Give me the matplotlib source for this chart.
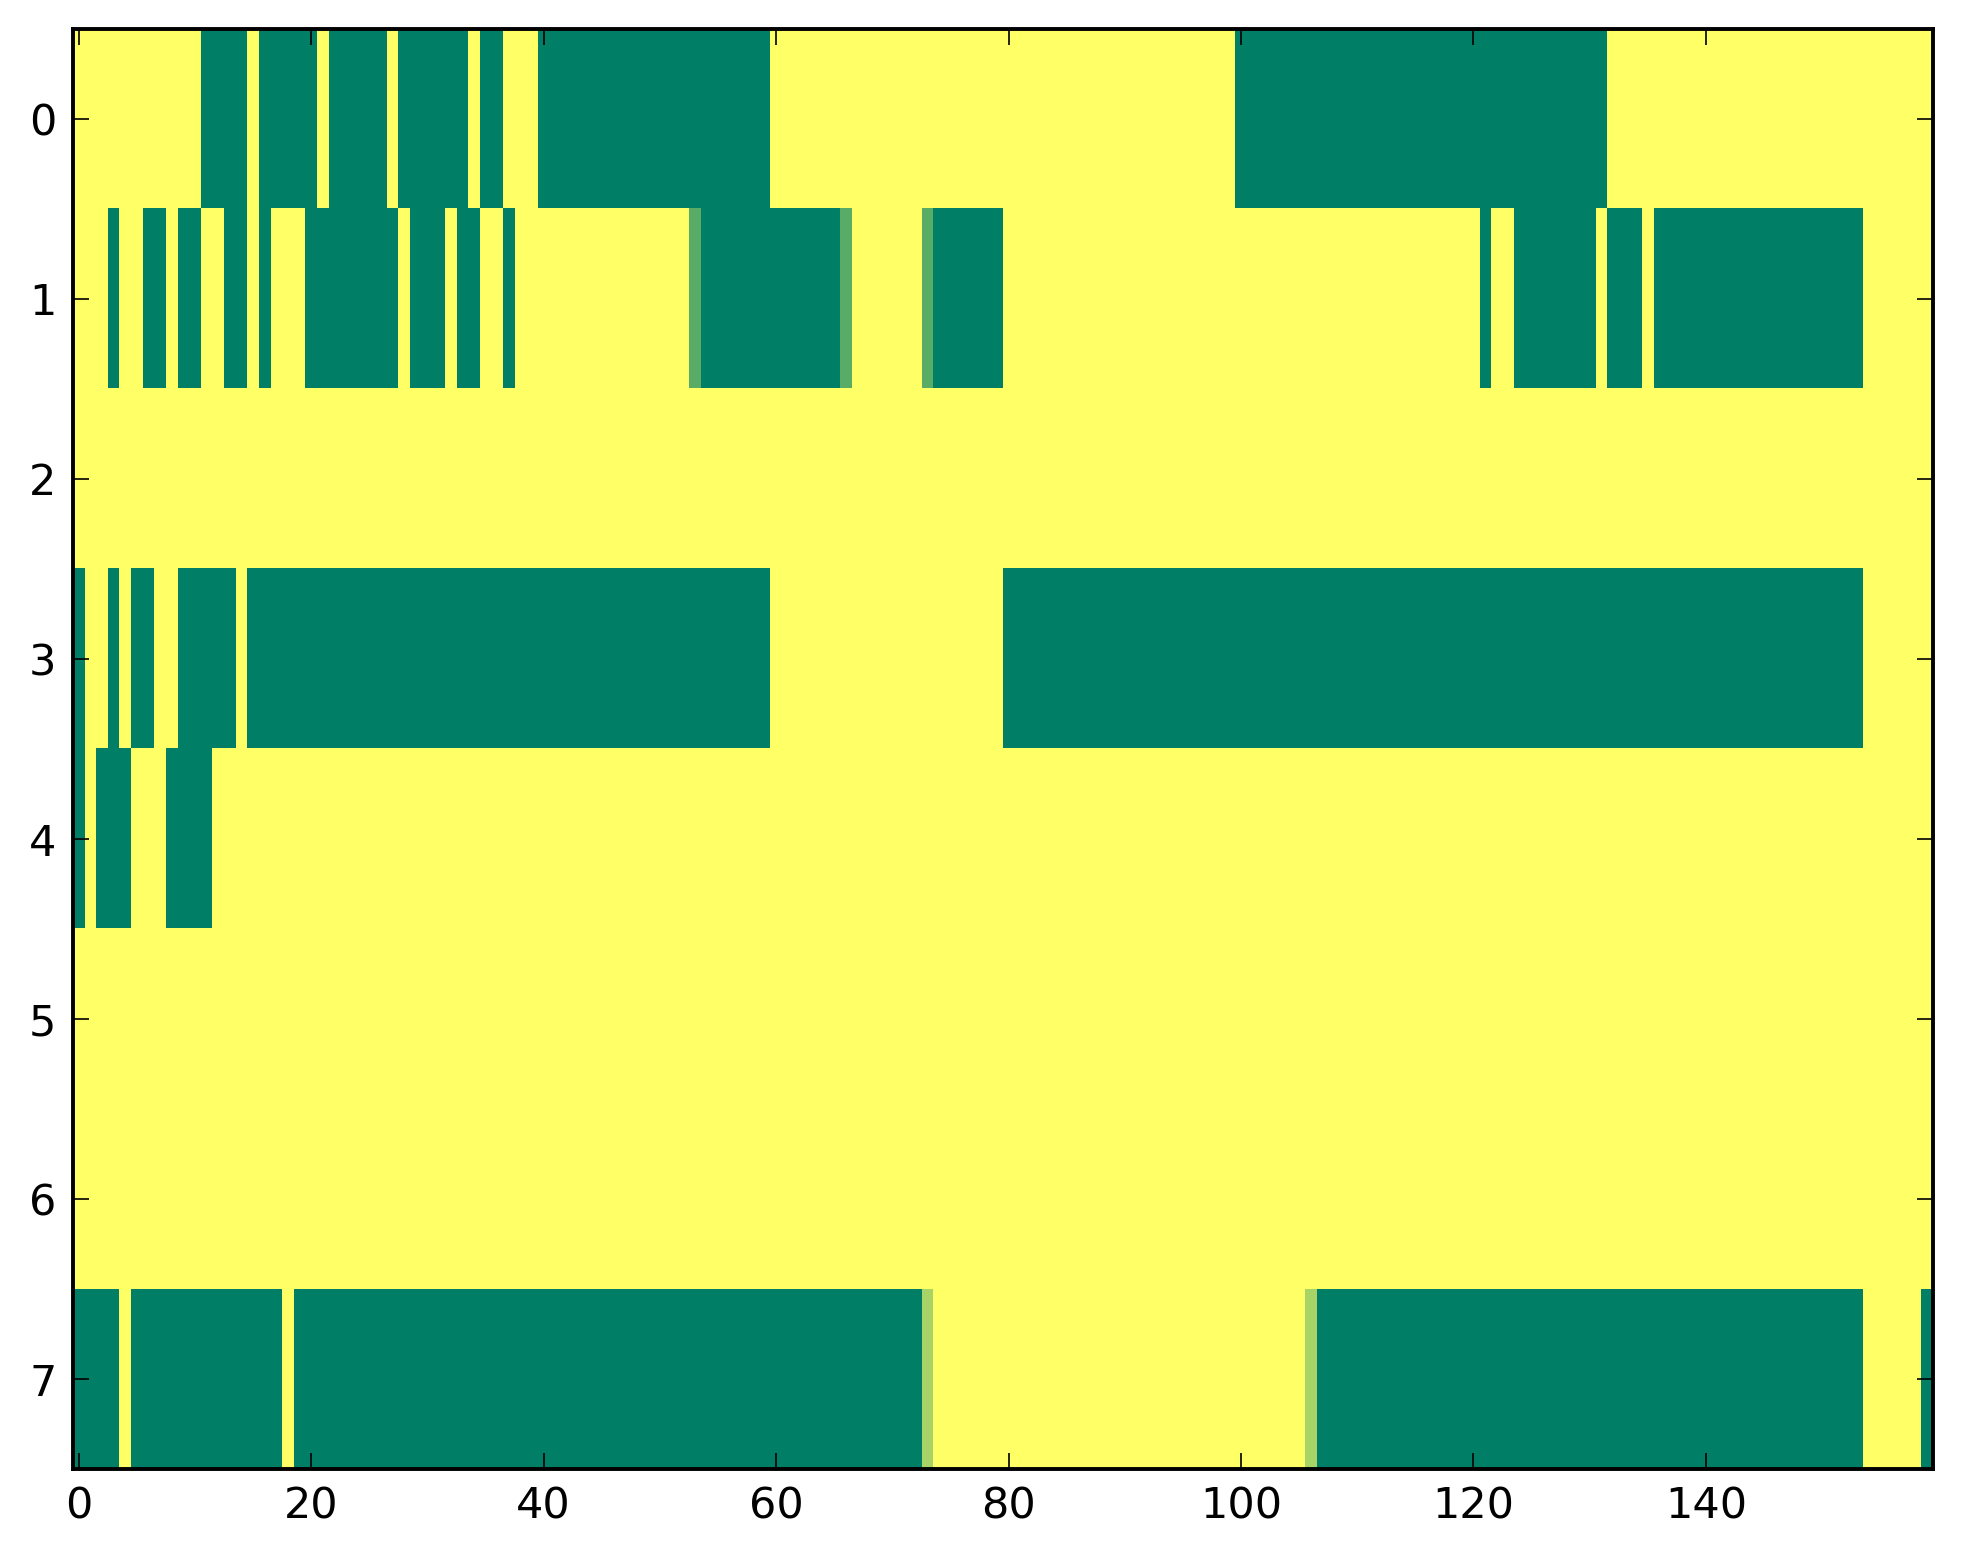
import matplotlib
matplotlib.use("Agg")
from matplotlib import pyplot as plt
import numpy as np

# Cell codes: G = 0 (green), Y = 1 (yellow), a / b = in-between values
codes = {"G": 0.0, "Y": 1.0, "a": 0.35, "b": 0.66}

row0 = ("Y" * 11 + "G" * 4 + "Y" + "G" * 5 + "Y" + "G" * 5 + "Y" + "G" * 6 + "Y"
        + "G" * 2 + "Y" * 3 + "G" * 20 + "Y" * 40 + "G" * 32 + "Y" * 28)
row1 = ("Y" * 3 + "G" + "Y" * 2 + "G" * 2 + "Y" + "G" * 2 + "Y" * 2 + "G" * 2 + "Y"
        + "G" + "Y" * 3 + "G" * 8 + "Y" + "G" * 3 + "Y" + "G" * 2 + "Y" * 2 + "G"
        + "Y" * 15 + "a" + "G" * 12 + "a" + "Y" * 6 + "a" + "G" * 6 + "Y" * 41
        + "G" + "Y" * 2 + "G" * 7 + "Y" + "G" * 3 + "Y" + "G" * 18 + "Y" * 6)
row2 = "Y" * 160
row3 = ("G" + "Y" * 2 + "G" + "Y" + "G" * 2 + "Y" * 2 + "G" * 5 + "Y" + "G" * 45
        + "Y" * 20 + "G" * 74 + "Y" * 6)
row4 = "G" + "Y" + "G" * 3 + "Y" * 3 + "G" * 4 + "Y" * 148
row5 = "Y" * 160
row6 = "Y" * 160
row7 = ("G" * 4 + "Y" + "G" * 13 + "Y" + "G" * 54 + "b" + "Y" * 32 + "b"
        + "G" * 47 + "Y" * 5 + "G")

rows = [row0, row1, row2, row3, row4, row5, row6, row7]
grid = np.array([[codes[c] for c in r] for r in rows])

fig = plt.figure(figsize=(1963 / 200, 1564 / 200), dpi=200)
ax = fig.add_axes([0.0372, 0.0607, 0.9845 - 0.0372, 0.9815 - 0.0607])

ax.imshow(grid, cmap="summer", vmin=0, vmax=1, aspect="auto",
          interpolation="nearest")

ax.set_xticks([0, 20, 40, 60, 80, 100, 120, 140])
ax.set_yticks(range(8))
ax.tick_params(direction="in", top=True, right=True, length=5.8, width=0.6,
               labelsize=15.5, pad=6)
for s in ax.spines.values():
    s.set_linewidth(1.4)

fig.savefig("out.png", dpi=200)
